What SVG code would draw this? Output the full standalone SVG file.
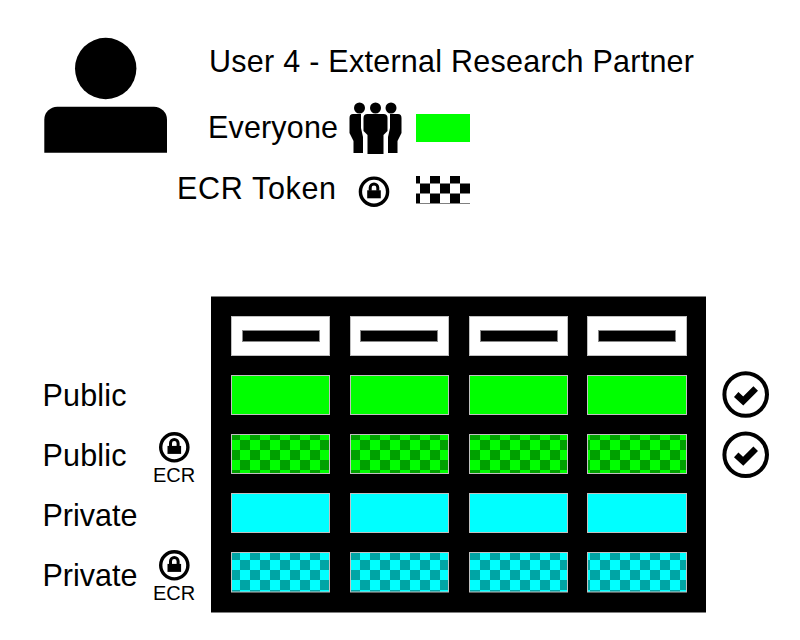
<svg xmlns="http://www.w3.org/2000/svg" width="800" height="640" viewBox="0 0 800 640">
<style>
text{font-family:"Liberation Sans",Arial,sans-serif;fill:#000}
.l{font-size:30.5px}
.s{font-size:20px}
.c{stroke:#c0c0c0;stroke-width:1}
.ring{fill:#fff;stroke:#000}
</style>
<defs>
<pattern id="pg" patternUnits="userSpaceOnUse" x="230" y="430" width="20" height="20"><rect width="20" height="20" fill="#00ff00"/><rect width="10" height="10" fill="#00a000"/><rect x="10" y="10" width="10" height="10" fill="#00a000"/></pattern>
<pattern id="pb" patternUnits="userSpaceOnUse" x="230" y="550" width="20" height="20"><rect width="20" height="20" fill="#00ffff"/><rect width="10" height="10" fill="#00a5a5"/><rect x="10" y="10" width="10" height="10" fill="#00a5a5"/></pattern>
<pattern id="pk" patternUnits="userSpaceOnUse" x="410" y="173.500" width="20" height="20"><rect width="20" height="20" fill="#fff"/><rect width="10" height="10" fill="#000"/><rect x="10" y="10" width="10" height="10" fill="#000"/></pattern>
<g id="lock"><circle r="13.600" class="ring" stroke-width="3.400"/><path d="M-6.800-1.400h13.600v8h-13.600z" fill="#000"/><path d="M-3.800-1v-3a3.800 3.800 0 0 1 7.600 0v3" fill="none" stroke="#000" stroke-width="3"/></g>
<g id="check"><circle r="21.300" class="ring" stroke-width="4"/><path d="M-9.500 0l7 6.500 12.500-12.500" fill="none" stroke="#000" stroke-width="6.500"/></g>
</defs>
<rect width="800" height="640" fill="#fff"/>
<g id="user-icon"><circle cx="105.700" cy="68.500" r="30.700"/><path d="M44.300 152.800v-33a13 13 0 0 1 13-13h96.700a13 13 0 0 1 13 13v33z"/></g>
<g id="title"><text class="l" x="209" y="71.500" textLength="485">User 4 - External Research Partner</text></g>
<g id="legend-everyone"><text class="l" x="208" y="137.500" textLength="130">Everyone</text>
<g id="group-icon"><circle cx="359.500" cy="108" r="5.500"/><circle cx="375.500" cy="108" r="5.500"/><circle cx="391" cy="108" r="5.500"/>
<path d="M353 114h8v14l2 9v16h-9.500v-12l-4-8v-15q0-4 3.500-4z"/><path d="M398 114h-8v14l-2 9v16h9.500v-12l4-8v-15q0-4-3.500-4z"/><path d="M367.500 114h16q4 0 4 4v13l-4 4v19h-16v-19l-4-4v-13q0-4 4-4z"/></g>
<rect fill="#00ff00" x="416" y="114" width="54" height="28"/></g>
<g id="legend-ecr"><text class="l" x="177" y="198.500" textLength="159">ECR Token</text><use href="#lock" x="374" y="191.700"/><rect x="416" y="176" width="54" height="28" fill="url(#pk)"/></g>
<g id="panel"><rect x="211" y="296.500" width="495" height="316" fill="#000"/></g>
<g id="cells" class="c">
<g id="headers" fill="#fff"><rect x="231.500" y="316.500" width="98" height="39"/><rect x="350.500" y="316.500" width="98" height="39"/><rect x="469.500" y="316.500" width="98" height="39"/><rect x="587.500" y="316.500" width="99" height="39"/>
<g fill="#000" stroke="#888"><rect x="242.500" y="330.500" width="77" height="11"/><rect x="360.500" y="330.500" width="77" height="11"/><rect x="480.500" y="330.500" width="77" height="11"/><rect x="598.500" y="330.500" width="77" height="11"/></g></g>
<g id="row-public" fill="#00ff00"><rect x="231.500" y="375.500" width="98" height="39"/><rect x="350.500" y="375.500" width="98" height="39"/><rect x="469.500" y="375.500" width="98" height="39"/><rect x="587.500" y="375.500" width="99" height="39"/></g>
<g id="row-public-ecr" fill="url(#pg)"><rect x="231.500" y="434.500" width="98" height="39"/><rect x="350.500" y="434.500" width="98" height="39"/><rect x="469.500" y="434.500" width="98" height="39"/><rect x="587.500" y="434.500" width="99" height="39"/></g>
<g id="row-private" fill="#00ffff"><rect x="231.500" y="493.500" width="98" height="39"/><rect x="350.500" y="493.500" width="98" height="39"/><rect x="469.500" y="493.500" width="98" height="39"/><rect x="587.500" y="493.500" width="99" height="39"/></g>
<g id="row-private-ecr" fill="url(#pb)"><rect x="231.500" y="552.500" width="98" height="39.500"/><rect x="350.500" y="552.500" width="98" height="39.500"/><rect x="469.500" y="552.500" width="98" height="39.500"/><rect x="587.500" y="552.500" width="99" height="39.500"/></g>
</g>
<g id="labels"><text class="l" x="42.500" y="406" textLength="84">Public</text><text class="l" x="42.500" y="466" textLength="84">Public</text><text class="l" x="42.500" y="526" textLength="95">Private</text><text class="l" x="42.500" y="586" textLength="95">Private</text>
<use href="#lock" x="174.300" y="447.300"/><text class="s" x="153" y="481.500">ECR</text><use href="#lock" x="174.300" y="565.300"/><text class="s" x="153" y="599.500">ECR</text></g>
<g id="checks"><use href="#check" x="745.700" y="394.500"/><use href="#check" x="745.700" y="454.800"/></g>
</svg>
